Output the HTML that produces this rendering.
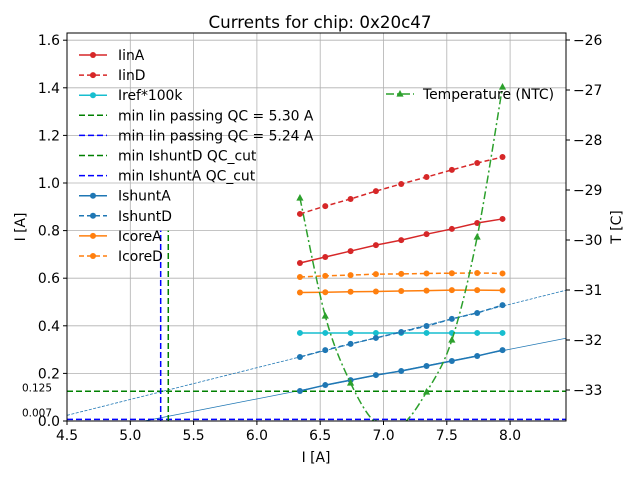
<!DOCTYPE html>
<html><head><meta charset="utf-8"><style>
body{margin:0;background:#fff;font-family:"Liberation Sans","DejaVu Sans",sans-serif;}
svg text{font-family:"DejaVu Sans","Liberation Sans",sans-serif;}
</style></head><body>
<svg id="c" width="640" height="480" xmlns="http://www.w3.org/2000/svg"></svg>
<script>
const xs=[6.34,6.54,6.74,6.94,7.14,7.34,7.54,7.74,7.94];
const iinA=[0.664,0.689,0.714,0.739,0.760,0.785,0.807,0.832,0.849];
const iinD=[0.870,0.903,0.933,0.966,0.996,1.025,1.055,1.084,1.109];
const iref=[0.370,0.370,0.370,0.370,0.370,0.370,0.370,0.370,0.370];
const ishuntA=[0.126,0.151,0.172,0.193,0.210,0.231,0.252,0.273,0.298];
const ishuntD=[0.269,0.298,0.324,0.349,0.374,0.399,0.429,0.454,0.487];
const icoreA=[0.540,0.541,0.543,0.544,0.546,0.548,0.550,0.550,0.549];
const icoreD=[0.605,0.610,0.613,0.617,0.618,0.620,0.621,0.622,0.620];
const temp=[-29.16,-31.52,-32.86,-33.66,-33.70,-33.04,-32.00,-29.94,-26.94];
const xTicks=[4.5,5.0,5.5,6.0,6.5,7.0,7.5,8.0];
const yTicks=[0.0,0.2,0.4,0.6,0.8,1.0,1.2,1.4,1.6];
const tTicks=[-26,-27,-28,-29,-30,-31,-32,-33];
const qcA=5.30, qcD=5.24, cutD=0.125, cutA=0.007;

const L=67,R=566,T=33,B=421;
const FS=13.9;
const X=v=>L+(v-4.5)*126.6;
const Y=v=>B-v*238;
const YT=v=>40+(-26-v)*50;
const svg=document.getElementById('c');
const NS='http://www.w3.org/2000/svg';
function mk(tag,attrs,parent){const e=document.createElementNS(NS,tag);for(const k in attrs)e.setAttribute(k,attrs[k]);(parent||svg).appendChild(e);return e;}
function txt(s,x,y,a,size,anchor,parent){const e=mk('text',Object.assign({x:x,y:y,'font-size':size||FS,'text-anchor':anchor||'middle',fill:'#000'},a),parent);e.textContent=s;return e;}

const defs=mk('defs',{});const cp=mk('clipPath',{id:'clip'},defs);mk('rect',{x:L,y:T,width:R-L,height:B-T},cp);
const tl=txt('Currents for chip: 0x20c47',320,28,{},16.7);


const grid=mk('g',{});
xTicks.forEach(v=>mk('line',{x1:X(v),x2:X(v),y1:T,y2:B,stroke:'#b0b0b0','stroke-width':0.8},grid));
yTicks.forEach(v=>mk('line',{x1:L,x2:R,y1:Y(v),y2:Y(v),stroke:'#b0b0b0','stroke-width':0.8},grid));

const plot=mk('g',{'clip-path':'url(#clip)'});
function fit(ys){const n=xs.length;let mx=0,my=0;xs.forEach((x,i)=>{mx+=x;my+=ys[i];});mx/=n;my/=n;let sxy=0,sxx=0;xs.forEach((x,i)=>{sxy+=(x-mx)*(ys[i]-my);sxx+=(x-mx)*(x-mx);});const b=sxy/sxx;return [b,my-b*mx];}
function fitLine(ys,dash,name){const [b,a]=fit(ys);const e=mk('line',{x1:X(4.5),y1:Y(a+b*4.5),x2:X(8.5),y2:Y(a+b*8.5),stroke:'#1f77b4','stroke-width':0.8,'stroke-dasharray':dash||'none'},plot);}
fitLine(ishuntA,null,'ishuntA-fit-line');fitLine(ishuntD,'3,1.5','ishuntD-fit-line');

let e;
e=mk('line',{x1:L,x2:R,y1:Y(cutD),y2:Y(cutD),stroke:'green','stroke-width':1.5,'stroke-dasharray':'6,3'},plot);
e=mk('line',{x1:L,x2:R,y1:Y(cutA),y2:Y(cutA),stroke:'blue','stroke-width':1.5,'stroke-dasharray':'6,3'},plot);
e=mk('line',{x1:X(qcA),x2:X(qcA),y1:B,y2:Y(0.8),stroke:'green','stroke-width':1.5,'stroke-dasharray':'6,3'},plot);
e=mk('line',{x1:X(qcD),x2:X(qcD),y1:B,y2:Y(0.8),stroke:'blue','stroke-width':1.5,'stroke-dasharray':'6,3'},plot);

function series(ys,color,dash,name){const g=mk('g',{},plot);
mk('polyline',{points:xs.map((x,i)=>X(x)+','+Y(ys[i])).join(' '),fill:'none',stroke:color,'stroke-width':1.5,'stroke-dasharray':dash||'none'},g);
xs.forEach((x,i)=>{const c=mk('circle',{cx:X(x),cy:Y(ys[i]),r:3,fill:color},g);});}
series(iinA,'#d62728',null,'iinA-series');
series(iinD,'#d62728','5,3','iinD-series');
series(iref,'#17becf',null,'iref-series');
series(ishuntA,'#1f77b4',null,'ishuntA-series');
series(ishuntD,'#1f77b4','5,3','ishuntD-series');
series(icoreA,'#ff7f0e',null,'icoreA-series');
series(icoreD,'#ff7f0e','5,3','icoreD-series');

const tp=xs.map((x,i)=>[X(x),YT(temp[i])]);
let d='M'+tp[0][0]+','+tp[0][1];
for(let i=0;i<tp.length-1;i++){const p0=tp[Math.max(0,i-1)],p1=tp[i],p2=tp[i+1],p3=tp[Math.min(tp.length-1,i+2)];
d+=' C'+(p1[0]+(p2[0]-p0[0])/6)+','+(p1[1]+(p2[1]-p0[1])/6)+' '+(p2[0]-(p3[0]-p1[0])/6)+','+(p2[1]-(p3[1]-p1[1])/6)+' '+p2[0]+','+p2[1];}
const tg=mk('g',{},plot);
mk('path',{d:d,fill:'none',stroke:'#2ca02c','stroke-width':1.5,'stroke-dasharray':'8,3,2,3'},tg);
tp.forEach(p=>{const m=mk('polygon',{points:`${p[0]},${p[1]-4} ${p[0]-3.6},${p[1]+2.6} ${p[0]+3.6},${p[1]+2.6}`,fill:'#2ca02c'},tg);});

mk('rect',{x:L,y:T,width:R-L,height:B-T,fill:'none',stroke:'#000','stroke-width':1});

const xa=mk('g',{});
xTicks.forEach(v=>{mk('line',{x1:X(v),x2:X(v),y1:B,y2:B+4,stroke:'#000'},xa);txt(v.toFixed(1),X(v),B+19,{},FS,'middle',xa);});
const xt=txt('I [A]',316,462,{},FS);
const ya=mk('g',{});
yTicks.forEach(v=>{mk('line',{x1:L-4,x2:L,y1:Y(v),y2:Y(v),stroke:'#000'},ya);txt(v.toFixed(1),L-7,Y(v)+5,{},FS,'end',ya);});
txt('0.125',52,Y(cutD)+0,{},10.5,'end',ya);txt('0.007',52,Y(cutA)-3,{},10.5,'end',ya);
const yt=txt('I [A]',0,0,{transform:'translate(25,227) rotate(-90)'},FS);
const ra=mk('g',{});
tTicks.forEach(v=>{mk('line',{x1:R,x2:R+4,y1:YT(v),y2:YT(v),stroke:'#000'},ra);txt('\u2212'+Math.abs(v),R+7,YT(v)+5,{},FS,'start',ra);});
const rt=txt('T [C]',0,0,{transform:'translate(621,227) rotate(-90)'},FS);

const leg=[['IinA','#d62728','none','c'],['IinD','#d62728','5,3','c'],['Iref*100k','#17becf','none','c'],['min Iin passing QC = 5.30 A','green','6,3',''],['min Iin passing QC = 5.24 A','blue','6,3',''],['min IshuntD QC_cut','green','6,3',''],['min IshuntA QC_cut','blue','6,3',''],['IshuntA','#1f77b4','none','c'],['IshuntD','#1f77b4','5,3','c'],['IcoreA','#ff7f0e','none','c'],['IcoreD','#ff7f0e','5,3','c']];
const lg=mk('g',{});
leg.forEach((l,i)=>{const y=55+i*20.1;const g=mk('g',{},lg);
mk('line',{x1:79,x2:107,y1:y,y2:y,stroke:l[1],'stroke-width':1.5,'stroke-dasharray':l[2]},g);
if(l[3])mk('circle',{cx:93,cy:y,r:3,fill:l[1]},g);
txt(l[0],118,y+5,{},FS,'start',g);});
const tl2=mk('g',{});
mk('line',{x1:386,x2:414,y1:94,y2:94,stroke:'#2ca02c','stroke-width':1.5,'stroke-dasharray':'8,3,2,3'},tl2);
mk('polygon',{points:'400,90 396.4,96.6 403.6,96.6',fill:'#2ca02c'},tl2);
txt('Temperature (NTC)',423,99,{},FS,'start',tl2);
</script>
</body></html>
